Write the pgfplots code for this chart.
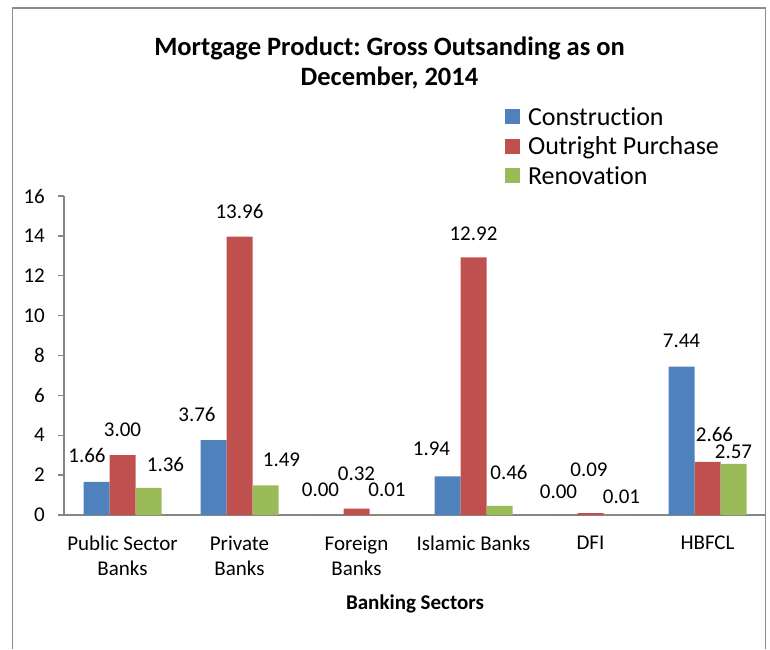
\documentclass[border=0pt]{standalone}
\usepackage{pgfplots}
\pgfplotsset{compat=1.18}
\usepackage{pgfplotstable}
\usepackage{fontspec}
\setmainfont{Carlito}[Ligatures=NoCommon]
\frenchspacing
\definecolor{cblue}{HTML}{4F81BD}
\definecolor{cred}{HTML}{C0504D}
\definecolor{cgreen}{HTML}{9BBB59}
\definecolor{axgray}{HTML}{868686}
\definecolor{framegray}{HTML}{8C8C8C}

\pgfplotstableread{
x C Cdx Cdy O Odx Ody R Rdx Rdy
0 1.66 -9.5 19 3.00 0 18 1.36 17 16
1 3.76 -16.5 18 13.96 0 18 1.49 16 18
2 0.00 -10 18 0.32 0 28 0.01 4.5 18
3 1.94 -16 20 12.92 0 17 0.46 9.5 26
4 0.00 -6 16 0.09 -1.5 36 0.01 5 11
5 7.44 0 19 2.66 7 20 2.57 0 5
}\data

\begin{document}
\begin{tikzpicture}[x=1pt,y=1pt]
\useasboundingbox (0,0) rectangle (770,649);
\draw[framegray, line width=1.8pt] (12.5,0) -- (12.5,641) -- (765.5,641) -- (765.5,0);
\node[font=\fontsize{26.5}{30}\selectfont\bfseries, align=center, inner sep=0pt] at (389.5,586)
  {Mortgage Product: Gross Outsanding as on\\December, 2014};
\begin{axis}[
  at={(64pt,134pt)}, anchor=south west,
  scale only axis, width=702pt, height=319pt,
  xmin=-0.5, xmax=5.5, ymin=0, ymax=16,
  ybar=0pt, bar width=26pt,
  axis x line*=bottom, axis y line*=left,
  axis line style={axgray, line width=1.3pt, -},
  tick style={axgray, line width=1.3pt},
  tick align=outside,
  major tick length=6pt,
  ytick={0,2,...,16},
  xtick={0,...,5},
  xticklabels={{Public Sector\\Banks},{Private\\Banks},{Foreign\\Banks},{Islamic Banks},{DFI},{HBFCL}},
  xtick style={draw=none},
  extra x ticks={-0.5,0.5,...,5.5},
  extra x tick labels={},
  extra x tick style={tick style={axgray, line width=1.3pt, draw=axgray}, major tick length=6pt},
  /pgf/number format/assume math mode=true,
  ticklabel style={font=\fontsize{21}{25}\selectfont},
  yticklabel style={inner sep=0pt, xshift=-13pt},
  xticklabel style={align=center, inner sep=0pt, yshift=-15pt},
  xlabel={Banking Sectors},
  xlabel style={font=\fontsize{21}{25}\selectfont\bfseries, inner sep=0pt, yshift=-7pt},
  nodes near coords={\pgfmathprintnumber[fixed,fixed zerofill,precision=2]{\pgfplotspointmeta}},
  every node near coord/.append style={font=\fontsize{21}{25}\selectfont, inner sep=0pt, anchor=south, xshift=\mydx pt, yshift=\mydy pt, black},
  legend style={draw=none, fill=none, at={(0.628,1.285)}, anchor=north west,
    font=\fontsize{26}{29}\selectfont, inner sep=0pt, row sep=6pt,
    /tikz/every odd column/.append style={column sep=6pt},
    cells={anchor=west}},
  legend image code/.code={\fill[#1] (0pt,-7.5pt) rectangle (15pt,7.5pt);},
]
\addplot[fill=cblue, draw=none, visualization depends on={\thisrow{Cdx}\as\mydx}, visualization depends on={\thisrow{Cdy}\as\mydy}] table[x=x, y=C] {\data};
\addplot[fill=cred, draw=none, visualization depends on={\thisrow{Odx}\as\mydx}, visualization depends on={\thisrow{Ody}\as\mydy}] table[x=x, y=O] {\data};
\addplot[fill=cgreen, draw=none, visualization depends on={\thisrow{Rdx}\as\mydx}, visualization depends on={\thisrow{Rdy}\as\mydy}] table[x=x, y=R] {\data};
\legend{Construction, Outright Purchase, Renovation}
\end{axis}
\end{tikzpicture}
\end{document}
